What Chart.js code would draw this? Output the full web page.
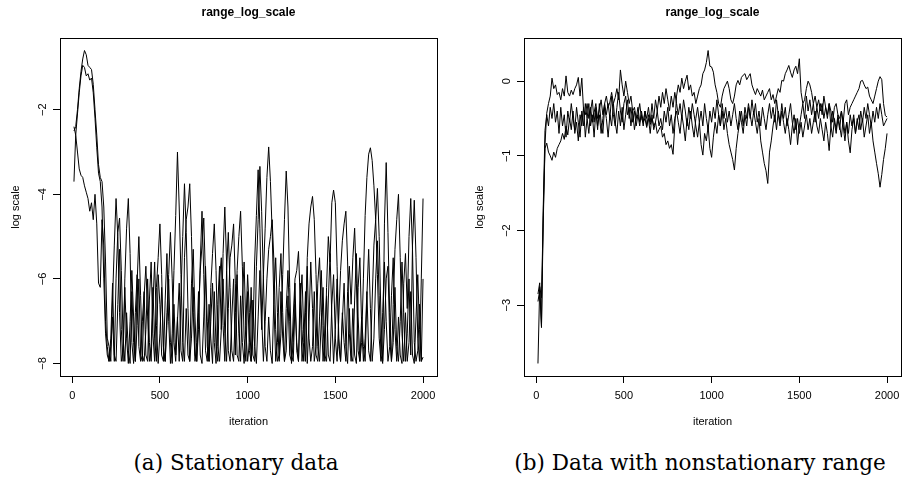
<!DOCTYPE html>
<html>
<head>
<meta charset="utf-8">
<script src="https://cdn.jsdelivr.net/npm/chart.js@4"></script>
<style>
  html, body { margin: 0; padding: 0; background: #fff; overflow: hidden; }
  #page { position: relative; width: 902px; height: 491px; overflow: hidden; }
  canvas { position: absolute; top: 0; }
  #left { left: 0; }
  #right { left: 464px; }
  .caption {
    position: absolute; top: 451px; line-height: 24px; white-space: nowrap;
    font-family: "DejaVu Serif", serif; font-size: 21.5px; color: #000;
    transform: translateX(-50%);
  }
</style>
</head>
<body>
<div id="page">
  <canvas id="left" width="451" height="440"></canvas>
  <canvas id="right" width="451" height="440"></canvas>
  <div class="caption" style="left:236px">(a) Stationary data</div>
  <div class="caption" style="left:700px">(b) Data with nonstationary range</div>
</div>
<script>
// iterations 10, 20, ..., 2000 (thinned chain)
const iterations = Array.from({ length: 200 }, (_, i) => (i + 1) * 10);
const xTicks = [0, 500, 1000, 1500, 2000];

// (a) stationary data, three chains
const stat1 = [
  -2.5, -2.4, -2.0, -1.5, -1.1, -0.8, -0.6, -0.7, -0.95, -1.0,
  -1.05, -1.4, -2.0, -2.6, -3.3, -3.6, -3.7, -4.3, -5.6, -7.4,
  -7.6, -7.95, -6.5, -5.2, -4.1, -5.0, -6.8, -7.95, -7.7, -6.2,
  -7.4, -8.0, -7.0, -5.8, -6.9, -7.95, -6.1, -5.0, -6.4, -7.8,
  -7.95, -7.2, -6.0, -7.5, -7.95, -6.6, -5.6, -7.1, -8.0, -7.3,
  -6.2, -7.6, -7.95, -6.8, -5.9, -4.9, -6.0, -7.5, -7.95, -7.0,
  -6.1, -7.7, -7.95, -5.5, -4.6, -4.3, -3.75, -5.0, -6.8, -7.95,
  -7.5, -6.3, -7.8, -8.0, -6.9, -5.7, -7.0, -7.95, -6.2, -5.4,
  -4.7, -5.8, -7.6, -7.95, -7.2, -6.0, -7.3, -7.95, -6.7, -5.5,
  -5.2, -4.7, -6.1, -7.8, -7.95, -6.4, -7.5, -8.0, -7.1, -5.9,
  -6.8, -7.95, -7.4, -5.6, -4.5, -3.42, -4.8, -6.9, -7.95, -7.0,
  -6.0, -5.3, -5.0, -4.6, -5.6, -7.2, -7.95, -7.8, -6.3, -7.4,
  -7.95, -6.7, -5.8, -7.0, -8.0, -7.5, -6.1, -7.7, -7.95, -6.6,
  -5.9, -7.3, -7.95, -5.5, -4.7, -4.3, -4.05, -4.6, -5.9, -7.6,
  -7.95, -7.0, -6.2, -7.8, -7.95, -6.5, -5.4, -6.9, -8.0, -7.2,
  -6.0, -7.6, -7.95, -6.8, -7.5, -7.95, -6.3, -5.7, -6.6, -5.5,
  -4.8, -6.1, -7.7, -7.95, -6.9, -7.6, -7.95, -6.4, -5.3, -6.7,
  -7.95, -7.4, -6.0, -5.1, -6.4, -7.8, -8.0, -4.7, -3.25, -4.9,
  -6.8, -7.95, -7.5, -6.2, -7.6, -7.95, -7.0, -5.6, -6.8, -7.95,
  -7.3, -6.0, -7.8, -5.2, -4.14, -5.5, -7.4, -7.95, -6.0, -4.1
];
const stat2 = [
  -2.4, -2.6, -2.1, -1.6, -1.2, -0.95, -1.0, -1.2, -1.15, -1.3,
  -1.25, -1.6, -2.2, -2.9, -3.5, -3.7, -4.3, -6.0, -7.3, -7.8,
  -7.95, -7.6, -6.9, -7.95, -6.0, -4.9, -4.56, -5.8, -7.4, -7.95,
  -6.8, -7.7, -8.0, -6.3, -7.5, -7.95, -7.1, -6.0, -7.8, -7.95,
  -6.4, -5.7, -6.9, -7.95, -7.6, -6.2, -7.4, -7.95, -5.9, -6.6,
  -7.8, -7.95, -6.5, -5.4, -7.0, -8.0, -7.3, -5.8, -4.5, -3.0,
  -4.3, -5.9, -7.5, -7.95, -6.7, -7.8, -7.95, -6.1, -5.3, -6.9,
  -7.95, -7.2, -5.6, -4.4, -5.9, -7.7, -7.95, -6.6, -7.4, -8.0,
  -6.3, -7.6, -7.95, -6.0, -5.5, -7.1, -7.95, -5.8, -4.9, -6.2,
  -7.7, -7.95, -6.8, -5.9, -7.3, -7.95, -6.5, -5.6, -7.2, -7.95,
  -7.5, -6.2, -7.8, -7.95, -5.7, -4.6, -3.34, -4.4, -6.0, -7.6,
  -7.95, -6.9, -7.7, -8.0, -6.4, -5.5, -6.8, -7.95, -7.3, -5.9,
  -4.6, -3.45, -4.3, -6.2, -7.8, -7.95, -6.6, -7.5, -7.95, -6.1,
  -7.2, -7.95, -6.8, -5.7, -7.4, -7.95, -7.6, -6.3, -7.8, -7.95,
  -6.9, -5.8, -7.1, -7.95, -6.2, -5.0, -5.6, -4.2, -3.9, -4.2,
  -5.7, -7.4, -7.95, -7.0, -6.1, -7.6, -8.0, -6.7, -7.8, -7.95,
  -6.5, -5.4, -6.9, -7.95, -7.5, -6.0, -4.5, -3.6, -3.05, -2.9,
  -3.2, -3.8, -4.6, -5.9, -7.4, -7.95, -6.8, -5.6, -7.0, -7.95,
  -7.6, -6.4, -5.5, -7.2, -7.95, -6.9, -7.8, -8.0, -6.1, -5.4,
  -6.7, -5.0, -4.1, -5.3, -7.5, -7.95, -7.7, -6.6, -7.95, -6.0
];
const stat3 = [
  -3.7, -2.6, -3.0, -3.4, -3.55, -3.6, -3.8, -3.95, -4.1, -4.4,
  -4.2, -4.6, -4.0, -4.7, -6.1, -6.2, -4.6, -5.2, -7.0, -7.6,
  -7.95, -7.4, -6.1, -7.8, -7.95, -6.6, -5.3, -7.2, -7.95, -6.0,
  -4.8, -4.1, -5.4, -7.5, -8.0, -6.8, -5.9, -7.6, -7.95, -7.0,
  -6.3, -7.8, -7.95, -6.5, -5.6, -7.3, -7.95, -6.2, -5.5, -4.7,
  -5.9, -7.7, -7.95, -7.1, -6.0, -7.5, -8.0, -6.6, -7.8, -6.9,
  -7.95, -6.4, -5.0, -3.75, -4.9, -6.7, -7.95, -7.4, -6.2, -7.8,
  -7.95, -6.8, -5.8, -5.2, -4.56, -6.0, -7.6, -7.95, -7.0, -6.1,
  -7.5, -8.0, -6.6, -5.7, -7.2, -5.4, -4.3, -5.6, -7.7, -7.95,
  -6.9, -6.0, -7.8, -5.8, -5.0, -4.4, -5.7, -7.4, -7.95, -6.3,
  -7.7, -7.95, -6.5, -7.6, -8.0, -6.9, -5.8, -7.2, -5.9, -4.8,
  -3.6, -2.88, -3.7, -4.9, -6.6, -7.95, -7.5, -6.2, -5.4, -6.8,
  -7.95, -7.7, -6.4, -7.8, -7.95, -6.9, -6.0, -5.8, -5.35, -6.5,
  -7.95, -7.5, -6.3, -8.0, -7.0, -5.6, -6.7, -7.95, -7.6, -6.1,
  -5.5, -6.8, -7.95, -7.3, -6.4, -7.8, -7.95, -6.6, -5.9, -7.4,
  -7.95, -6.9, -5.8, -5.1, -4.7, -4.4, -5.6, -7.3, -7.95, -6.7,
  -7.8, -8.0, -6.2, -5.5, -7.1, -7.95, -7.4, -6.3, -7.7, -7.95,
  -6.5, -5.2, -4.6, -3.86, -5.0, -6.9, -7.95, -7.2, -6.0, -5.7,
  -7.4, -7.95, -6.6, -5.3, -4.6, -4.0, -5.5, -7.3, -7.95, -6.8,
  -7.95, -7.5, -6.3, -7.8, -8.0, -6.9, -5.9, -7.2, -7.95, -7.85
];
const statTicks = [-8, -6, -4, -2];

// (b) nonstationary range, three chains
const nonstat1 = [
  -3.78, -2.75, -2.9, -1.8, -0.85, -0.43, -0.3, -0.2, 0.04, -0.1,
  -0.05, -0.18, -0.15, -0.25, -0.1, -0.2, 0.07, -0.15, -0.2, -0.12,
  -0.18, -0.1, -0.05, 0.05, -0.2, 0.04, -0.39, -0.45, -0.3, -0.5,
  -0.35, -0.55, -0.42, -0.3, -0.5, -0.38, -0.25, -0.45, -0.3, -0.2,
  -0.35, -0.28, -0.15, -0.3, -0.22, -0.1, -0.25, 0.15, -0.05, -0.2,
  0.0, -0.15, -0.3, -0.2, -0.4, -0.35, -0.5, -0.45, -0.6, -0.4,
  -0.55, -0.5, -0.62, -0.45, -0.58, -0.5, -0.6, -0.55, -0.7, -0.65,
  -0.6, -0.75, -0.7, -0.85, -0.8, -0.9, -0.85, -0.98, -0.6, -0.2,
  -0.05, -0.15, 0.04, -0.1, 0.0, 0.08, -0.12, -0.05, -0.2, -0.15,
  -0.3, -0.2, -0.1, -0.05, 0.1, 0.15, 0.25, 0.41, 0.2, 0.19,
  0.12, -0.05, -0.15, -0.3, -0.35, -0.2, -0.1, -0.05, 0.0, -0.1,
  -0.25, -0.3, -0.2, -0.05, 0.01, -0.05, 0.05, 0.08, 0.1, 0.02,
  0.06, 0.1, -0.05, -0.12, -0.18, -0.1, -0.15, -0.2, -0.12, -0.25,
  -0.2, -0.15, -0.1, -0.25, -0.18, -0.3, -0.2, -0.1, -0.15, 0.01,
  0.0, 0.1, 0.15, 0.21, 0.12, 0.05, 0.15, 0.2, 0.1, 0.3,
  -0.15, -0.3, -0.25, -0.1, 0.0, -0.05, -0.15, -0.3, -0.2, -0.35,
  -0.25, -0.4, -0.3, -0.5, -0.35, -0.45, -0.3, -0.4, -0.55, -0.35,
  -0.3, -0.45, -0.5, -0.4, -0.55, -0.3, -0.25, -0.45, -0.35, -0.3,
  -0.25, -0.2, -0.15, -0.1, 0.0, 0.01, -0.05, -0.1, -0.08, -0.2,
  -0.25, -0.3, -0.2, -0.1, 0.0, 0.06, 0.02, -0.3, -0.46, -0.48
];
const nonstat2 = [
  -2.85, -2.7, -3.3, -1.7, -0.66, -0.45, -0.6, -0.35, -0.5, -0.3,
  -0.55, -0.4, -0.7, -0.35, -0.6, -0.45, -0.75, -0.4, -0.55, -0.3,
  -0.5, -0.65, -0.35, -0.55, -0.75, -0.4, -0.6, -0.3, -0.5, -0.7,
  -0.4, -0.25, -0.55, -0.35, -0.6, -0.45, -0.7, -0.5, -0.3, -0.45,
  -0.3, -0.5, -0.2, -0.45, -0.6, -0.35, -0.15, -0.4, -0.55, -0.3,
  -0.2, -0.45, -0.35, -0.6, -0.4, -0.65, -0.5, -0.35, -0.55, -0.45,
  -0.6, -0.4, -0.5, -0.35, -0.55, -0.3, -0.5, -0.25, -0.4, -0.2,
  -0.35, -0.15, -0.3, -0.1, -0.25, -0.4, -0.2, -0.35, -0.15, -0.3,
  -0.45, -0.3, -0.5, -0.25, -0.4, -0.6, -0.35, -0.5, -0.3, -0.45,
  -0.6, -0.75, -0.55, -0.85, -0.99, -0.7, -0.8, -0.6, -0.9, -1.02,
  -0.75, -0.55, -0.7, -0.45, -0.6, -0.4, -0.65, -0.5, -0.7, -0.85,
  -0.95, -1.05, -1.19, -0.9, -0.7, -0.55, -0.4, -0.6, -0.35, -0.5,
  -0.3, -0.45, -0.6, -0.4, -0.55, -0.7, -0.5, -0.8, -0.95, -1.1,
  -1.2, -1.37, -0.95, -0.8, -0.6, -0.45, -0.65, -0.4, -0.55, -0.3,
  -0.5, -0.35, -0.6, -0.45, -0.3, -0.55, -0.7, -0.5, -0.85, -0.6,
  -0.45, -0.3, -0.5, -0.2, -0.4, -0.25, -0.45, -0.3, -0.55, -0.35,
  -0.5, -0.3, -0.45, -0.2, -0.35, -0.5, -0.3, -0.6, -0.4, -0.55,
  -0.7, -0.5, -0.65, -0.4, -0.6, -0.8, -0.55, -0.7, -0.45, -0.6,
  -0.45, -0.7, -0.5, -0.65, -0.4, -0.55, -0.35, -0.5, -0.3, -0.45,
  -0.6, -0.4, -0.55, -0.35, -0.5, -0.3, -0.45, -0.6, -0.55, -0.5
];
const nonstat3 = [
  -2.95, -2.8, -3.28, -1.9, -0.9, -0.83, -0.95, -1.0, -1.06, -0.95,
  -1.02, -0.9, -0.85, -0.8, -0.7, -0.78, -0.6, -0.72, -0.5, -0.65,
  -0.4, -0.7, -0.55, -0.8, -0.45, -0.6, -0.35, -0.75, -0.5, -0.3,
  -0.6, -0.45, -0.75, -0.4, -0.65, -0.3, -0.55, -0.7, -0.35, -0.5,
  -0.75, -0.45, -0.6, -0.3, -0.55, -0.7, -0.4, -0.6, -0.35, -0.65,
  -0.45, -0.25, -0.5, -0.35, -0.55, -0.4, -0.6, -0.45, -0.3, -0.5,
  -0.55, -0.4, -0.6, -0.5, -0.7, -0.45, -0.65, -0.55, -0.4, -0.6,
  -0.5, -0.65, -0.4, -0.55, -0.35, -0.6, -0.45, -0.7, -0.5, -0.4,
  -0.55, -0.7, -0.45, -0.6, -0.8, -0.5, -0.65, -0.4, -0.6, -0.75,
  -0.5, -0.35, -0.55, -0.4, -0.6, -0.3, -0.5, -0.65, -0.4, -0.55,
  -0.35, -0.5, -0.25, -0.45, -0.6, -0.3, -0.5, -0.35, -0.55, -0.4,
  -0.6, -0.45, -0.3, -0.5, -0.65, -0.4, -0.55, -0.7, -0.45, -0.6,
  -0.35, -0.5, -0.25, -0.45, -0.3, -0.55, -0.4, -0.6, -0.35, -0.5,
  -0.65, -0.45, -0.3, -0.5, -0.35, -0.55, -0.25, -0.45, -0.6, -0.4,
  -0.55, -0.7, -0.5, -0.65, -0.85, -0.6, -0.45, -0.65, -0.5, -0.7,
  -0.55, -0.75, -0.6, -0.45, -0.65, -0.5, -0.7, -0.55, -0.4, -0.6,
  -0.7, -0.5, -0.65, -0.8, -0.55, -0.7, -0.93, -0.6, -0.75, -0.5,
  -0.65, -0.45, -0.6, -0.75, -0.5, -0.7, -0.55, -0.8, -0.96, -0.65,
  -0.5, -0.7, -0.55, -0.45, -0.65, -0.5, -0.75, -0.6, -0.45, -0.7,
  -0.55, -0.8, -0.95, -1.1, -1.24, -1.42, -1.25, -1.05, -0.9, -0.7
];
const nonstatTicks = [-3, -2, -1, 0];

const font = { family: '"Liberation Sans", Arial, sans-serif', size: 11 };
const plain = (v) => (v < 0 ? '\u2212' + Math.abs(v) : String(v));

// R-style range: data extent widened by 4% on each side
function rRange(values) {
  const lo = Math.min(...values), hi = Math.max(...values);
  const pad = (hi - lo) * 0.04;
  return [lo - pad, hi + pad];
}

// box around the plot region, like R's box()
const boxPlugin = {
  id: 'box',
  afterDraw(chart) {
    const { ctx, chartArea: a } = chart;
    ctx.save();
    ctx.strokeStyle = '#000';
    ctx.lineWidth = 1;
    ctx.strokeRect(Math.round(a.left) + 0.5, Math.round(a.top) + 0.5,
      Math.round(a.right - a.left), Math.round(a.bottom - a.top));
    ctx.restore();
  }
};

function tracePlot(id, series, yTicks) {
  const [xMin, xMax] = rRange(iterations);
  const [yMin, yMax] = rRange(series.flat());
  const axisGrid = {
    display: true, drawOnChartArea: false, drawTicks: true,
    tickLength: 7, tickColor: '#000', tickWidth: 1
  };
  new Chart(document.getElementById(id), {
    type: 'line',
    data: {
      datasets: series.map((s) => ({
        data: s.map((v, i) => ({ x: iterations[i], y: v })),
        borderColor: '#000',
        borderWidth: 1,
        pointRadius: 0,
        tension: 0,
        fill: false
      }))
    },
    options: {
      responsive: false,
      animation: false,
      devicePixelRatio: 1,
      layout: { padding: { left: 0, right: 14, top: 0, bottom: 0 } },
      plugins: {
        legend: { display: false },
        tooltip: { enabled: false },
        title: {
          display: true,
          text: 'range_log_scale',
          fullSize: false,
          color: '#000',
          font: { family: font.family, size: 12, weight: 'bold' },
          padding: { top: 5, bottom: 18.6 }
        }
      },
      scales: {
        x: {
          type: 'linear',
          min: xMin,
          max: xMax,
          afterBuildTicks: (s) => { s.ticks = xTicks.map((v) => ({ value: v })); },
          afterFit: (s) => { s.height = 64; },
          grid: axisGrid,
          border: { display: false },
          ticks: { color: '#000', font, padding: 6, maxRotation: 0, autoSkip: false, callback: plain },
          title: {
            display: true, text: 'iteration', color: '#000', font,
            padding: { top: 0, bottom: 11 }
          }
        },
        y: {
          type: 'linear',
          min: yMin,
          max: yMax,
          afterBuildTicks: (s) => { s.ticks = yTicks.map((v) => ({ value: v })); },
          afterFit: (s) => { s.width = 60; },
          grid: axisGrid,
          border: { display: false },
          ticks: {
            color: '#000', font, padding: 4, autoSkip: false,
            minRotation: 90, maxRotation: 90, crossAlign: 'center',
            callback: plain
          },
          title: {
            display: true, text: 'log scale', color: '#000', font,
            padding: { top: 9.4, bottom: 0 }
          }
        }
      }
    },
    plugins: [boxPlugin]
  });
}

tracePlot('left', [stat1, stat2, stat3], statTicks);
tracePlot('right', [nonstat1, nonstat2, nonstat3], nonstatTicks);
</script>
</body>
</html>
